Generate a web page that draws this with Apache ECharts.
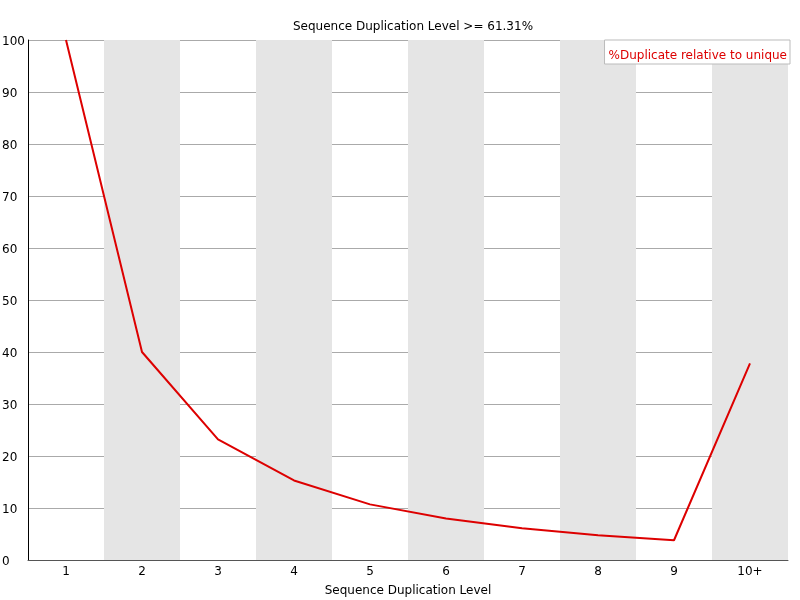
<!DOCTYPE html>
<html>
	<head>
		<meta charset="utf-8">
		<title>Sequence Duplication Level</title>
		<style type="text/css">
			* {
				margin: 0;
				padding: 0;
			}

			html,
			body {
				width: 100%;
				height: 100%;
				background: #fff;
			}

			#box {
				width: 800px;
				height: 600px;
			}
		</style>
	</head>
	<body>
		<div id="box"></div>
		<script src="https://cdn.jsdelivr.net/npm/echarts@6/dist/echarts.min.js"></script>
		<script type="text/javascript">
			var levels = ['1', '2', '3', '4', '5', '6', '7', '8', '9', '10+']
			var dupvalues = [100, 40.0, 23.2, 15.3, 10.7, 8.0, 6.1, 4.75, 3.8, 37.8]
			var seriesname = '%Duplicate relative to unique'

			window.onload = function() {
				charts1()
			}

			function charts1() {
				var myChart = echarts.init(document.getElementById('box'));
				var font = 'DejaVu Sans'
				var option = {
					animation: false,
					textStyle: {
						fontFamily: font
					},
					title: {
						text: 'Sequence Duplication Level >= 61.31%',
						left: 408,
						textAlign: 'center',
						top: 16,
						textStyle: {
							fontFamily: font,
							fontSize: 12,
							fontWeight: 'normal',
							color: '#000'
						}
					},
					legend: {
						right: 10,
						top: 40,
						orient: 'vertical',
						backgroundColor: '#fff',
						borderColor: '#bbb',
						borderWidth: 1,
						borderRadius: 0,
						padding: [10, 3, 2, 1],
						itemWidth: 0,
						itemHeight: 0,
						itemGap: 0,
						data: [{
							name: seriesname,
							icon: 'none'
						}],
						textStyle: {
							fontFamily: font,
							fontSize: 12,
							color: '#dd0000',
							padding: [0, 0, 0, -2]
						}
					},
					grid: {
						left: 28,
						right: 12,
						top: 40,
						bottom: 40,
						containLabel: false,
						outerBoundsMode: 'none'
					},
					xAxis: {
						type: 'category',
						data: levels,
						name: 'Sequence Duplication Level',
						nameLocation: 'middle',
						nameGap: 25,
						nameTextStyle: {
							fontFamily: font,
							fontSize: 12,
							color: '#000'
						},
						axisLine: {
							lineStyle: {
								color: '#555',
								width: 1
							}
						},
						axisTick: {
							show: false
						},
						axisLabel: {
							fontFamily: font,
							fontSize: 12,
							color: '#000',
							margin: 6
						},
						splitArea: {
							show: true,
							areaStyle: {
								color: ['rgba(255,255,255,0)', '#e5e5e5']
							}
						}
					},
					yAxis: {
						type: 'value',
						min: 0,
						max: 100,
						interval: 10,
						axisLine: {
							show: true,
							lineStyle: {
								color: '#000',
								width: 1
							}
						},
						axisTick: {
							show: false
						},
						axisLabel: {
							fontFamily: font,
							fontSize: 12,
							color: '#000',
							align: 'left',
							verticalAlign: 'top',
							lineHeight: 4,
							margin: 26
						},
						splitLine: {
							show: true,
							lineStyle: {
								color: '#aaa',
								width: 1
							}
						}
					},
					series: [{
						name: seriesname,
						type: 'line',
						data: dupvalues,
						showSymbol: false,
						symbol: 'none',
						z: 5,
						lineStyle: {
							color: '#dd0000',
							width: 2
						},
						itemStyle: {
							color: '#dd0000'
						}
					}]
				};
				myChart.setOption(option);
			}
		</script>
	</body>
</html>
